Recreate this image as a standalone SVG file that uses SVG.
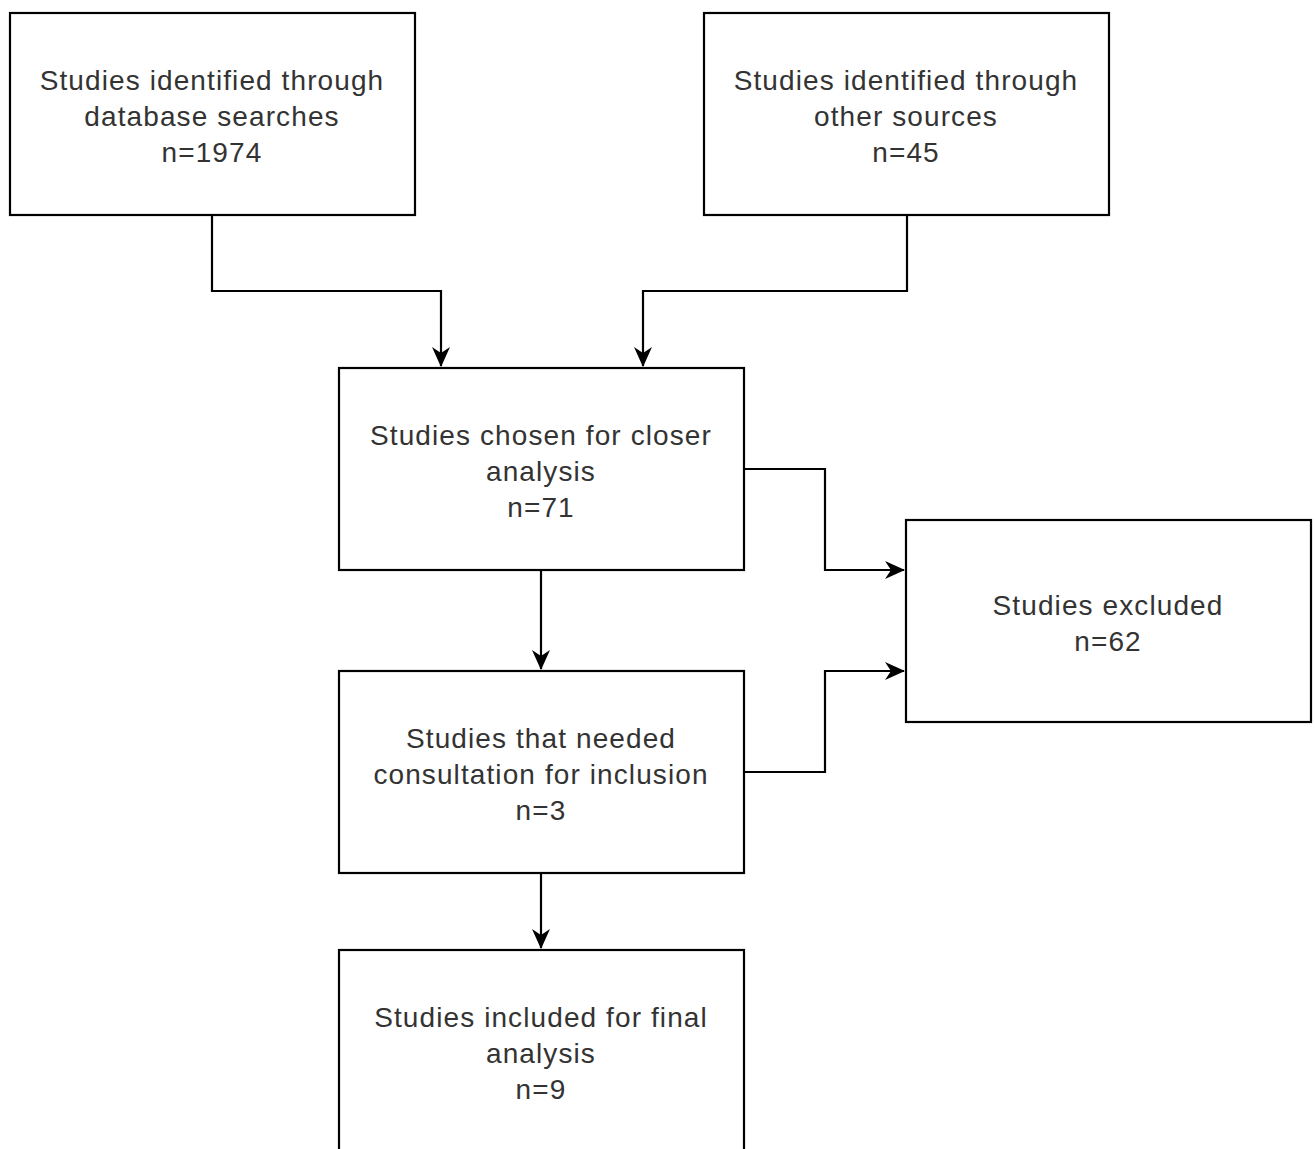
<svg xmlns="http://www.w3.org/2000/svg" width="1315" height="1149" viewBox="0 0 1315 1149">
<defs>
<style>
.box{fill:#fff;stroke:#000;stroke-width:2.2}
.lbl{font-family:"Liberation Sans",Arial,sans-serif;font-size:28px;letter-spacing:1.1px;fill:#333;text-anchor:middle}
.edge{fill:none;stroke:#000;stroke-width:2.2}
</style>
<marker id="arr" viewBox="0 0 20 18" refX="19" refY="9" markerWidth="20" markerHeight="18" markerUnits="userSpaceOnUse" orient="auto">
<path d="M0,0 L20,9 L0,18 L6,9 Z" fill="#000"/>
</marker>
</defs>
<rect width="1315" height="1149" fill="#fff"/>
<g id="connectors">
<path class="edge" d="M212,215 V291 H441 V366" marker-end="url(#arr)"/>
<path class="edge" d="M907,215 V291 H643 V366" marker-end="url(#arr)"/>
<path class="edge" d="M744,469 H825 V570 H904" marker-end="url(#arr)"/>
<path class="edge" d="M744,772 H825 V671 H904" marker-end="url(#arr)"/>
<path class="edge" d="M541,570 V669" marker-end="url(#arr)"/>
<path class="edge" d="M541,873 V948" marker-end="url(#arr)"/>
</g>
<g id="n1"><rect class="box" x="10" y="13" width="405" height="202"/>
<text class="lbl"><tspan x="212" y="90">Studies identified through</tspan><tspan x="212" y="126">database searches</tspan><tspan x="212" y="162">n=1974</tspan></text></g>
<g id="n2"><rect class="box" x="704" y="13" width="405" height="202"/>
<text class="lbl"><tspan x="906" y="90">Studies identified through</tspan><tspan x="906" y="126">other sources</tspan><tspan x="906" y="162">n=45</tspan></text></g>
<g id="n3"><rect class="box" x="339" y="368" width="405" height="202"/>
<text class="lbl"><tspan x="541" y="445">Studies chosen for closer</tspan><tspan x="541" y="481">analysis</tspan><tspan x="541" y="517">n=71</tspan></text></g>
<g id="n4"><rect class="box" x="906" y="520" width="405" height="202"/>
<text class="lbl"><tspan x="1108" y="615">Studies excluded</tspan><tspan x="1108" y="651">n=62</tspan></text></g>
<g id="n5"><rect class="box" x="339" y="671" width="405" height="202"/>
<text class="lbl"><tspan x="541" y="748">Studies that needed</tspan><tspan x="541" y="784">consultation for inclusion</tspan><tspan x="541" y="820">n=3</tspan></text></g>
<g id="n6"><rect class="box" x="339" y="950" width="405" height="202"/>
<text class="lbl"><tspan x="541" y="1027">Studies included for final</tspan><tspan x="541" y="1063">analysis</tspan><tspan x="541" y="1099">n=9</tspan></text></g>
</svg>
